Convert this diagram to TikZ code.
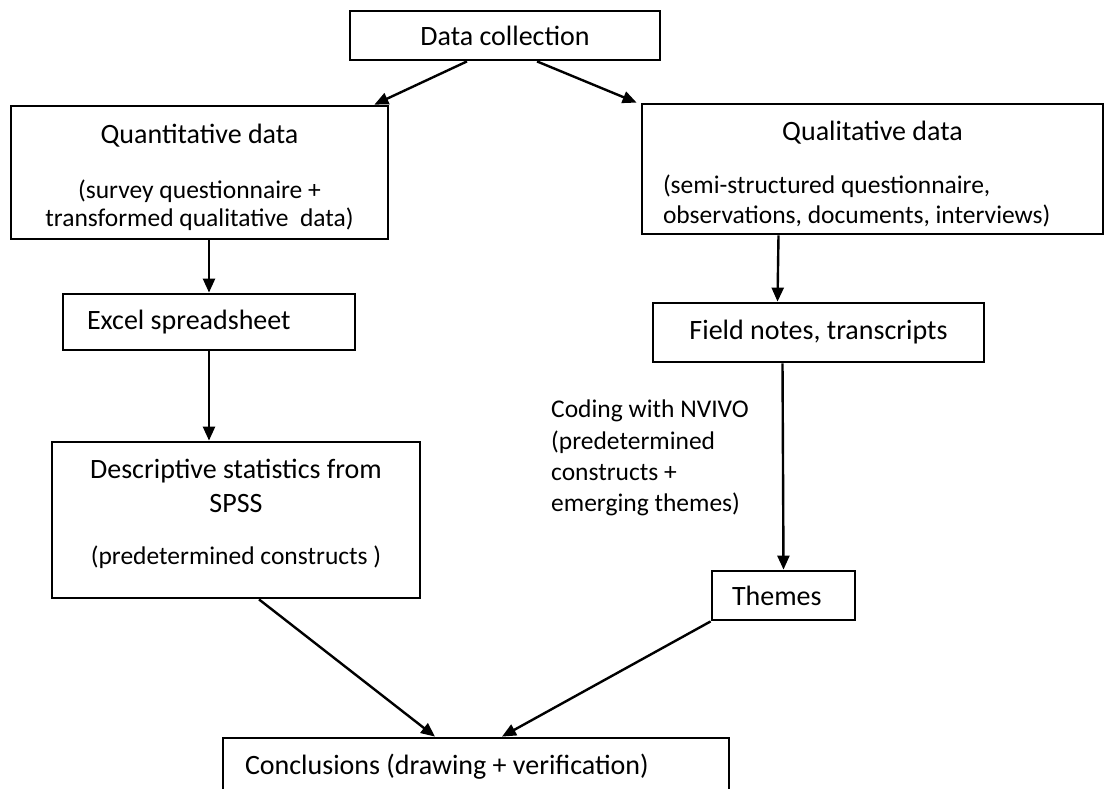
\documentclass[tikz,border=0pt]{standalone}
\usepackage{fontspec}
\setmainfont{Carlito}
\usetikzlibrary{arrows.meta}
\newcommand{\mainfnt}{\fontsize{28}{34}\selectfont}
\newcommand{\subtxt}[1][30]{\fontsize{25.5}{#1}\selectfont}

\begin{document}
\begin{tikzpicture}[x=1pt, y=-1pt,
  box/.style={draw, line width=2.8pt, font=\mainfnt, inner sep=0pt, align=flush center},
  note/.style={font={\fontsize{25.5}{31.3}\selectfont}, align=left, inner sep=0pt},
  arr/.style={-{Triangle[length=14pt,width=12pt]}, line width=2.4pt}]
\useasboundingbox (0,0) rectangle (1110,789);
\node[box, minimum width=310pt, minimum height=49pt, text width=290pt]
  (collect) at (505,35.5) {Data collection};
\node[box, minimum width=377pt, minimum height=133pt, text width=357pt]
  (quant) at (199.5,172.5) {\rule{0pt}{30pt}Quantitative data\par\vspace{27pt}%
  {\subtxt[28] (survey questionnaire +\\ transformed qualitative\ \ data)\par}};
\node[box, minimum width=461pt, minimum height=130pt, text width=419pt, align=flush left]
  (qual) at (872.5,169) {{\centering\rule{0pt}{30pt}Qualitative data\par}\vspace{23pt}%
  {\subtxt (semi-structured questionnaire,\\ observations, documents, interviews)\par}};
\node[box, minimum width=292pt, minimum height=56pt, text width=244pt, align=flush left]
  (excel) at (209,322) {Excel spreadsheet};
\node[box, minimum width=331pt, minimum height=59pt, text width=311pt]
  (field) at (818.5,332.5) {Field notes, transcripts};
\node[box, minimum width=368pt, minimum height=156pt, text width=340pt]
  (desc) at (236,520) {Descriptive statistics from\\ SPSS\par\vspace{22pt}%
  {\subtxt (predetermined constructs )\rule[-16pt]{0pt}{16pt}\par}};
\node[note, anchor=north west] (coding) at (551,400)
  {Coding with NVIVO\\ (predetermined\\ constructs +\\ emerging themes)};
\node[box, minimum width=143pt, minimum height=49pt, text width=103pt, align=flush left]
  (themes) at (783.5,595.5) {Themes};
\node[box, minimum width=506pt, minimum height=58pt, text width=462pt, align=flush left]
  (concl) at (476,767) {Conclusions (drawing + verification)};
% connectors
\draw[arr] ([xshift=-38pt]collect.south) -- ([xshift=-15pt]quant.north east);
\draw[arr] ([xshift=32pt]collect.south) -- ([xshift=-4pt]qual.north west);
\draw[arr] (excel.north |- quant.south) -- (excel.north);
\draw[arr] (excel.south) -- (excel.south |- desc.north);
\draw[arr] ([xshift=-94pt]qual.south) -- ([xshift=-41pt]field.north);
\draw[arr] ([xshift=-36pt]field.south) -- (themes.north);
\draw[arr] ([xshift=23pt]desc.south) -- ([xshift=-41pt]concl.north);
\draw[arr] (themes.south west) -- ([xshift=26pt]concl.north);
\end{tikzpicture}
\end{document}
